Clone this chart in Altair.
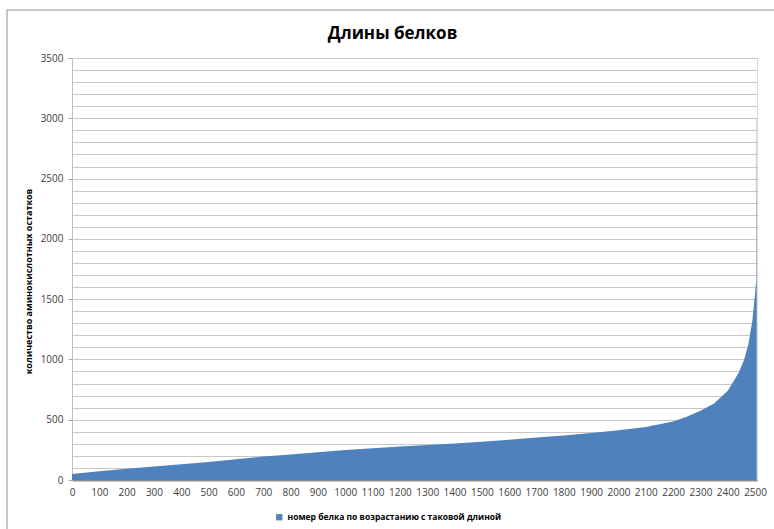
import altair as alt
import pandas as pd

# Protein rank (sorted by length) and length in amino-acid residues
protein_rank = [0, 100, 200, 300, 400, 500, 600, 700, 800, 900, 1000, 1100, 1200,
                1300, 1400, 1500, 1600, 1700, 1800, 1900, 2000, 2100, 2200, 2250,
                2300, 2350, 2400, 2440, 2460, 2475, 2490, 2500, 2504, 2505, 2506]
protein_length = [50, 72, 93, 112, 130, 150, 172, 195, 212, 230, 248, 263, 278,
                  290, 303, 318, 333, 352, 370, 390, 412, 440, 485, 525,
                  575, 635, 740, 890, 1000, 1120, 1320, 1550, 1650, 3000, 3000]
series_name = "номер белка по возрастанию с таковой длиной"
x_ticks = list(range(0, 2600, 100))
y_ticks = list(range(0, 3600, 100))

df = pd.DataFrame({"rank": protein_rank, "length": protein_length, "series": series_name})

FONT = "Open Sans"

area = alt.Chart(df).mark_area(interpolate="linear").encode(
    x=alt.X(
        "rank:Q",
        scale=alt.Scale(domain=[0, 2507], nice=False, zero=True),
        axis=alt.Axis(
            values=x_ticks, format="d", title=None, grid=False, ticks=False,
            labelOverlap=False, labelBound=False, labelFlush=False,
            labelPadding=7, labelFontSize=10, labelFont=FONT, labelColor="#404040",
            domainColor="#8C8C8C", domainWidth=2,
        ),
    ),
    y=alt.Y(
        "length:Q",
        scale=alt.Scale(domain=[0, 3500], nice=False),
        axis=alt.Axis(
            values=y_ticks, format="d",
            labelExpr="datum.value % 500 === 0 ? datum.label : ''",
            tickOpacity=alt.condition("datum.value % 500 === 0", alt.value(1), alt.value(0)),
            tickSize=4, tickColor="#A6A6A6",
            grid=True, gridColor="#C8C8C8", gridWidth=1,
            domainColor="#BFBFBF", labelPadding=5,
            labelFontSize=10, labelFont=FONT, labelColor="#404040",
            title="количество аминокислотных остатков",
            titleFont=FONT, titleFontSize=9, titleFontWeight="bold", titleColor="#000000",
            titleX=-44, titleY=223, titleAngle=-90, titleAlign="center", titleBaseline="middle",
        ),
    ),
    color=alt.Color(
        "series:N",
        scale=alt.Scale(range=["#4F81BD"]),
        legend=alt.Legend(
            title=None, orient="none", legendX=203, legendY=455,
            symbolType="square", symbolSize=40, symbolStrokeWidth=0, labelLimit=0,
            labelFont=FONT, labelFontSize=8.5, labelFontWeight="bold", labelColor="#000000",
        ),
    ),
)

frame_df = pd.DataFrame({"frame": [0]})
frame = alt.Chart(frame_df).mark_rect(fillOpacity=0, stroke="#8C8C8C", strokeWidth=1).encode(
    x=alt.value(-65), x2=alt.value(800), y=alt.value(-48), y2=alt.value(520)
)

chart = alt.layer(frame, area).properties(
    width=685,
    height=422,
    title=alt.TitleParams(
        "Длины белков", font=FONT, fontSize=17, fontWeight="bold", color="#000000",
        anchor="middle", dx=-22, offset=-33,
    ),
    autosize=alt.AutoSizeParams(type="none"),
    padding={"left": 72, "top": 58, "right": 17, "bottom": 49},
).configure_view(stroke=None).configure(background="white")

chart.save("out.html", embed_options={"renderer": "svg", "actions": False})
